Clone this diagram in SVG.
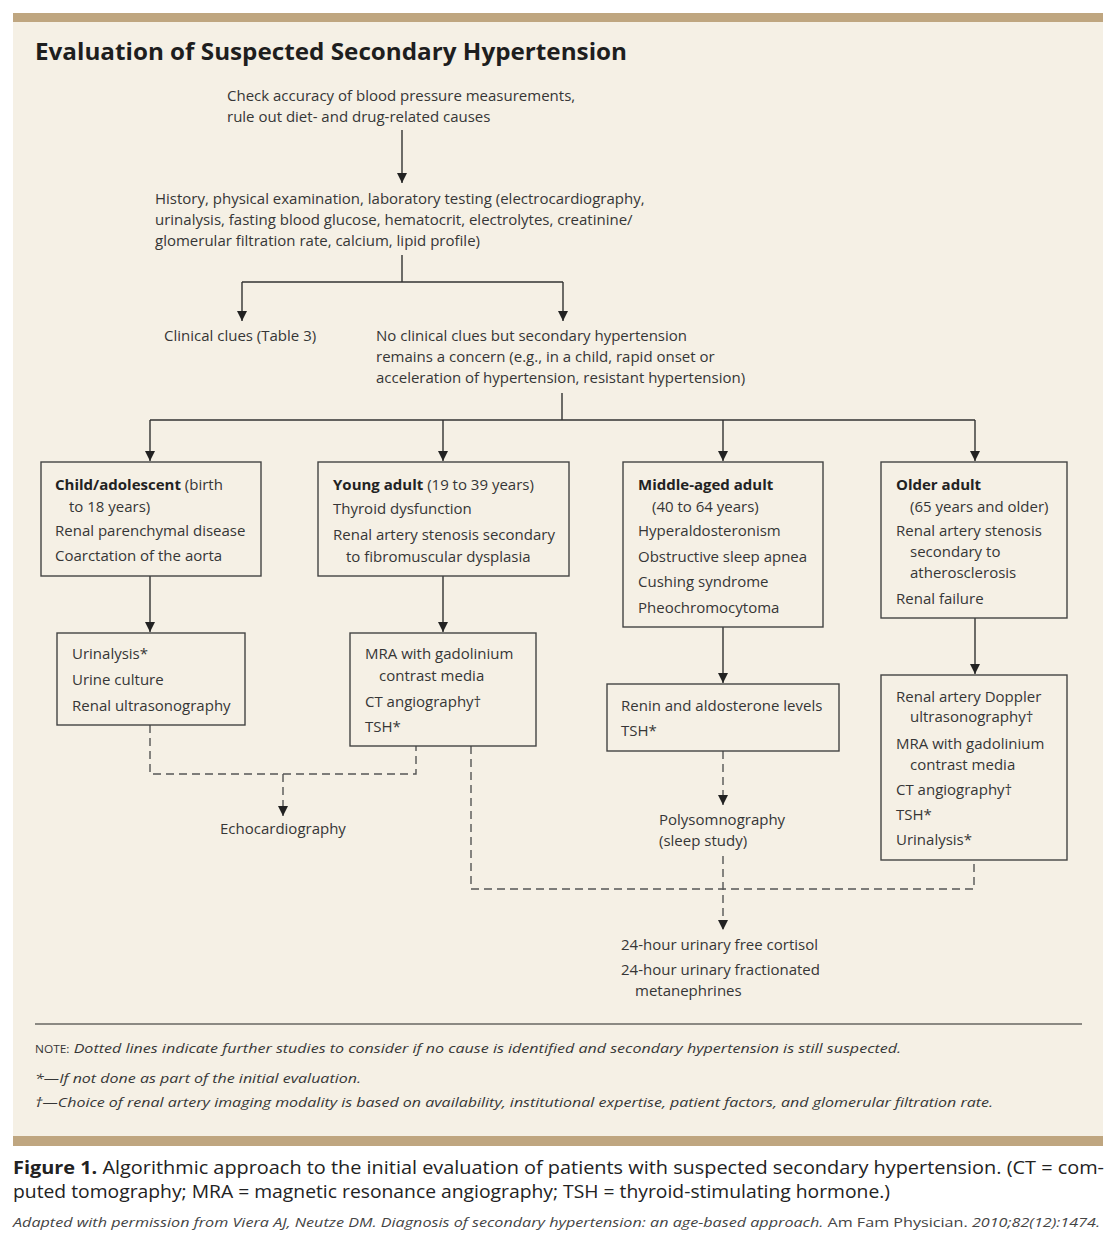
<svg xmlns="http://www.w3.org/2000/svg" width="1118" height="1240" viewBox="0 0 1118 1240">
<defs>
<style>
text{font-family:"Open Sans","Liberation Sans",sans-serif;fill:#363636;font-size:15px}
.b{font-weight:bold;fill:#222}
.title{font-size:23px;font-weight:bold;fill:#1e1e1e}
.note{font-size:13.5px;font-style:italic}
.sc{font-size:10px;font-style:normal}
.cap{font-size:18.5px;fill:#222}
.src{font-size:13.5px;font-style:italic;fill:#444}
.box{fill:none;stroke:#444;stroke-width:1.4}
.ln{fill:none;stroke:#333;stroke-width:1.4}
.dash{fill:none;stroke:#555;stroke-width:1.4;stroke-dasharray:8 5}
</style>
<marker id="ah" markerUnits="userSpaceOnUse" markerWidth="10" markerHeight="12" refX="10" refY="5" orient="auto">
<path d="M0,0 L10,5 L0,10 z" fill="#222"/>
</marker>
</defs>
<rect x="0" y="0" width="1118" height="1240" fill="#ffffff"/>
<rect x="13" y="13" width="1090" height="1123" fill="#f5f0e5"/>
<rect x="13" y="13" width="1090" height="9" fill="#bfa680"/>
<rect x="13" y="1136" width="1090" height="10" fill="#bfa680"/>
<text class="title" x="35" y="60" textLength="592" lengthAdjust="spacingAndGlyphs">Evaluation of Suspected Secondary Hypertension</text>

<g id="connectors">
<path class="ln" d="M402,130 V183" marker-end="url(#ah)"/>
<path class="ln" d="M402,255 V282 M242,282 H563"/>
<path class="ln" d="M242,282 V321" marker-end="url(#ah)"/>
<path class="ln" d="M563,282 V321" marker-end="url(#ah)"/>
<path class="ln" d="M562,393 V420 M150,420 H975"/>
<path class="ln" d="M150,420 V461" marker-end="url(#ah)"/>
<path class="ln" d="M443,420 V461" marker-end="url(#ah)"/>
<path class="ln" d="M723,420 V461" marker-end="url(#ah)"/>
<path class="ln" d="M975,420 V461" marker-end="url(#ah)"/>
<path class="ln" d="M150,576 V632" marker-end="url(#ah)"/>
<path class="ln" d="M443,576 V632" marker-end="url(#ah)"/>
<path class="ln" d="M723,627 V683" marker-end="url(#ah)"/>
<path class="ln" d="M975,618 V674" marker-end="url(#ah)"/>
<path class="dash" d="M150,725 V774 H416 V746"/>
<path class="dash" d="M283,774 V816" marker-end="url(#ah)"/>
<path class="dash" d="M471,746 V889 H974 V860"/>
<path class="dash" d="M723,751 V805" marker-end="url(#ah)"/>
<path class="dash" d="M723,856 V930" marker-end="url(#ah)"/>
</g>

<g id="n-check">
<text x="227" y="101">Check accuracy of blood pressure measurements,</text>
<text x="227" y="122">rule out diet- and drug-related causes</text>
</g>
<g id="n-history">
<text x="155" y="204">History, physical examination, laboratory testing (electrocardiography,</text>
<text x="155" y="225">urinalysis, fasting blood glucose, hematocrit, electrolytes, creatinine/</text>
<text x="155" y="246">glomerular filtration rate, calcium, lipid profile)</text>
</g>
<g id="n-clues">
<text x="164" y="341">Clinical clues (Table 3)</text>
</g>
<g id="n-noclues">
<text x="376" y="341">No clinical clues but secondary hypertension</text>
<text x="376" y="362">remains a concern (e.g., in a child, rapid onset or</text>
<text x="376" y="383">acceleration of hypertension, resistant hypertension)</text>
</g>
<g id="n-child">
<rect class="box" x="41" y="462" width="220" height="114"/>
<text x="55" y="490"><tspan class="b">Child/adolescent</tspan> (birth</text>
<text x="69" y="512">to 18 years)</text>
<text x="55" y="536">Renal parenchymal disease</text>
<text x="55" y="561">Coarctation of the aorta</text>
</g>
<g id="n-young">
<rect class="box" x="318" y="462" width="251" height="114"/>
<text x="333" y="490"><tspan class="b">Young adult</tspan> (19 to 39 years)</text>
<text x="333" y="514">Thyroid dysfunction</text>
<text x="333" y="540">Renal artery stenosis secondary</text>
<text x="346" y="562">to fibromuscular dysplasia</text>
</g>
<g id="n-middle">
<rect class="box" x="623" y="462" width="200" height="165"/>
<text class="b" x="638" y="490">Middle-aged adult</text>
<text x="652" y="512">(40 to 64 years)</text>
<text x="638" y="536">Hyperaldosteronism</text>
<text x="638" y="562">Obstructive sleep apnea</text>
<text x="638" y="587">Cushing syndrome</text>
<text x="638" y="613">Pheochromocytoma</text>
</g>
<g id="n-older">
<rect class="box" x="881" y="462" width="186" height="156"/>
<text class="b" x="896" y="490">Older adult</text>
<text x="910" y="512">(65 years and older)</text>
<text x="896" y="536">Renal artery stenosis</text>
<text x="910" y="557">secondary to</text>
<text x="910" y="578">atherosclerosis</text>
<text x="896" y="604">Renal failure</text>
</g>
<g id="n-child-tests">
<rect class="box" x="57" y="633" width="188" height="92"/>
<text x="72" y="659">Urinalysis*</text>
<text x="72" y="685">Urine culture</text>
<text x="72" y="711">Renal ultrasonography</text>
</g>
<g id="n-young-tests">
<rect class="box" x="350" y="633" width="186" height="113"/>
<text x="365" y="659">MRA with gadolinium</text>
<text x="379" y="681">contrast media</text>
<text x="365" y="707">CT angiography†</text>
<text x="365" y="732">TSH*</text>
</g>
<g id="n-middle-tests">
<rect class="box" x="607" y="684" width="232" height="67"/>
<text x="621" y="711">Renin and aldosterone levels</text>
<text x="621" y="736">TSH*</text>
</g>
<g id="n-older-tests">
<rect class="box" x="881" y="675" width="186" height="185"/>
<text x="896" y="702">Renal artery Doppler</text>
<text x="910" y="722">ultrasonography†</text>
<text x="896" y="749">MRA with gadolinium</text>
<text x="910" y="770">contrast media</text>
<text x="896" y="795">CT angiography†</text>
<text x="896" y="820">TSH*</text>
<text x="896" y="845">Urinalysis*</text>
</g>
<g id="n-echo">
<text x="220" y="834">Echocardiography</text>
</g>
<g id="n-poly">
<text x="659" y="825">Polysomnography</text>
<text x="659" y="846">(sleep study)</text>
</g>
<g id="n-cortisol">
<text x="621" y="950">24-hour urinary free cortisol</text>
<text x="621" y="975">24-hour urinary fractionated</text>
<text x="635" y="996">metanephrines</text>
</g>

<line x1="35" y1="1024" x2="1082" y2="1024" stroke="#222" stroke-width="1.2"/>
<text class="note" x="35" y="1053" textLength="866" lengthAdjust="spacingAndGlyphs"><tspan class="sc">NOTE:</tspan> Dotted lines indicate further studies to consider if no cause is identified and secondary hypertension is still suspected.</text>
<text class="note" x="35" y="1083" textLength="326" lengthAdjust="spacingAndGlyphs">*—If not done as part of the initial evaluation.</text>
<text class="note" x="35" y="1107" textLength="958" lengthAdjust="spacingAndGlyphs">†—Choice of renal artery imaging modality is based on availability, institutional expertise, patient factors, and glomerular filtration rate.</text>

<text class="cap" x="13" y="1174" textLength="1091" lengthAdjust="spacingAndGlyphs"><tspan class="b">Figure 1.</tspan> Algorithmic approach to the initial evaluation of patients with suspected secondary hypertension. (CT = com-</text>
<text class="cap" x="13" y="1198" textLength="877" lengthAdjust="spacingAndGlyphs">puted tomography; MRA = magnetic resonance angiography; TSH = thyroid-stimulating hormone.)</text>
<text class="src" x="13" y="1227" textLength="1087" lengthAdjust="spacingAndGlyphs">Adapted with permission from Viera AJ, Neutze DM. Diagnosis of secondary hypertension: an age-based approach. <tspan font-style="normal">Am Fam Physician.</tspan> 2010;82(12):1474.</text>
</svg>
